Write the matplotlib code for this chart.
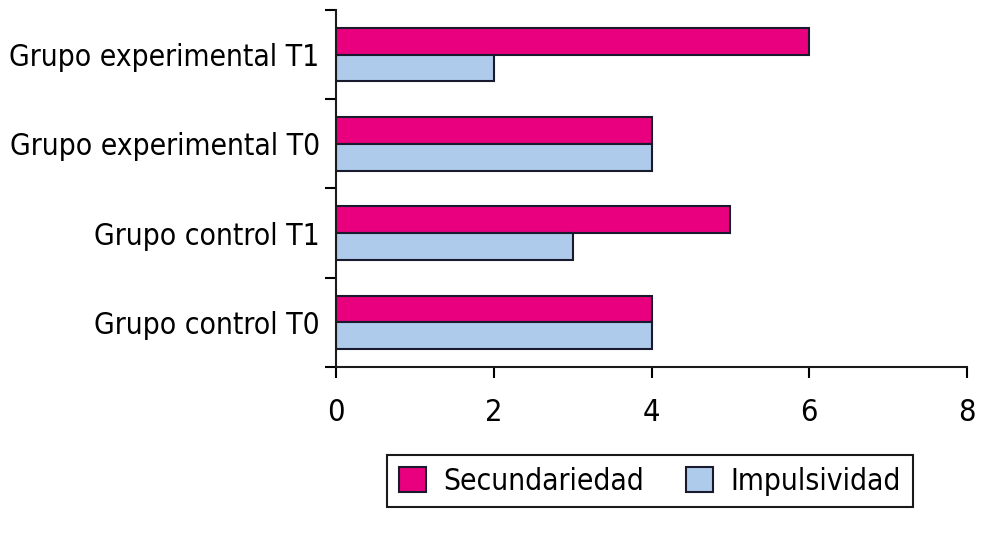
import numpy as np
import matplotlib.pyplot as plt
from matplotlib.ticker import FixedLocator

# datos
grupos = ['Grupo control T0', 'Grupo control T1', 'Grupo experimental T0', 'Grupo experimental T1']
secundariedad = [4, 5, 4, 6]
impulsividad = [4, 3, 4, 2]

plt.rcParams['font.family'] = ['DejaVu Sans']
plt.rcParams['font.stretch'] = 'condensed'   # letra estrecha como en el original

fig = plt.figure(figsize=(10.04, 5.41), dpi=100)
ax = fig.add_axes([0.335, 0.3216, 0.628, 0.66])

y = np.arange(len(grupos))
h = 0.3
ax.barh(y + h / 2, secundariedad, height=h, color='#e8007f', edgecolor='#1a1a2e',
        linewidth=1.5, label='Secundariedad')
ax.barh(y - h / 2, impulsividad, height=h, color='#aecbeb', edgecolor='#1a1a2e',
        linewidth=1.5, label='Impulsividad')

ax.set_xlim(0, 8)
ax.set_ylim(-0.5, len(grupos) - 0.5)
ax.set_xticks([0, 2, 4, 6, 8])
ax.set_yticks(y)
ax.set_yticklabels(grupos)
ax.yaxis.set_minor_locator(FixedLocator(np.arange(-0.5, len(grupos), 1)))
ax.tick_params(axis='y', which='major', length=0, pad=12, labelsize=21.5)
ax.tick_params(axis='y', which='minor', length=8, width=1.5, direction='out')
ax.tick_params(axis='x', length=8, width=1.5, direction='out', pad=14, labelsize=22)

for s in ['top', 'right']:
    ax.spines[s].set_visible(False)
for s in ['left', 'bottom']:
    ax.spines[s].set_linewidth(1.5)
    ax.spines[s].set_color('#1a1a1a')

leg = fig.legend(loc='center', bbox_to_anchor=(0.6474, 0.1109), ncol=2, fontsize=21.5,
                 frameon=True, fancybox=False, edgecolor='#1a1a1a', framealpha=1,
                 handlelength=0.9, handleheight=0.9, handletextpad=0.6,
                 columnspacing=1.4, borderpad=0.4, borderaxespad=0)
leg.get_frame().set_linewidth(1.5)

fig.savefig('out.png', dpi=100, facecolor='white')
